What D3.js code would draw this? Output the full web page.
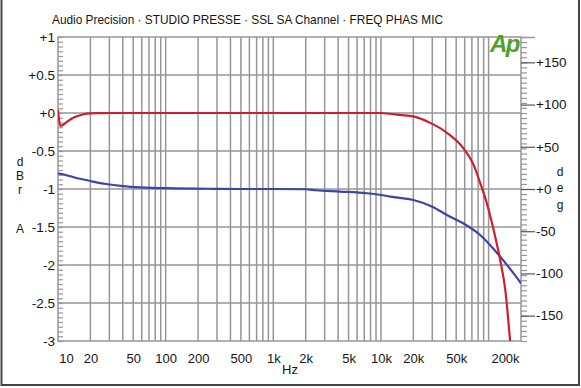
<!DOCTYPE html>
<html>
<head>
<meta charset="UTF-8">
<title>FREQ PHAS MIC</title>
<style>
  body { margin: 0; background: #fff; }
  svg text { font-family: "Liberation Sans", Arial, sans-serif; fill: #151515; }
</style>
</head>
<body>
<div id="chart"></div>
<script src="https://cdn.jsdelivr.net/npm/d3@7/dist/d3.min.js"></script>
<script>
// frequency axis labels
var freqTicks = [10, 20, 50, 100, 200, 500, 1000, 2000, 5000, 10000, 20000, 50000, 200000];
var freqLabels = ["10", "20", "50", "100", "200", "500", "1k", "2k", "5k", "10k", "20k", "50k", "200k"];
// left axis (dBr A)
var dbTicks = [1, 0.5, 0, -0.5, -1, -1.5, -2, -2.5, -3];
var dbLabels = ["+1", "+0.5", "+0", "-0.5", "-1", "-1.5", "-2", "-2.5", "-3"];
// right axis (deg)
var degTicks = [150, 100, 50, 0, -50, -100, -150];
var degLabels = ["+150", "+100", "+50", "+0", "-50", "-100", "-150"];

// amplitude curve (red)
var ampFreq = [10, 10.5, 11, 12, 14, 17, 20, 25, 30, 100, 1000, 5000, 10000, 12000, 15000, 20000, 28700, 41000, 58000, 72500, 83500, 96000, 111000, 128000, 143000, 158000, 165000];
var ampDb   = [0.04, -0.17, -0.16, -0.12, -0.06, -0.02, -0.005, -0.002, 0, 0, 0, 0, 0, -0.01, -0.025, -0.045, -0.13, -0.26, -0.46, -0.68, -0.92, -1.18, -1.53, -1.93, -2.33, -2.98, -3.3];

// phase curve (blue)
var phaseFreq = [10, 12, 14, 20, 28, 40, 58, 118, 250, 500, 1000, 2000, 2500, 4200, 7400, 10000, 12200, 15000, 20000, 30000, 41000, 58000, 83500, 117000, 166000, 200000];
var phaseDeg  = [18.6, 16.3, 13.9, 9.5, 5.9, 3.5, 2, 0.8, 0.3, 0, 0, -0.3, -1.5, -3, -5, -7.1, -9, -10.5, -13, -21, -30.8, -40.6, -54.5, -74.2, -97.9, -111.7];

var width = 581, height = 388;
var plot = { left: 58, right: 521, top: 37, bottom: 341 };

var svg = d3.select("#chart").append("svg")
  .attr("width", width).attr("height", height);

// outer frame
svg.append("rect")
  .attr("x", 1.5).attr("y", -5)
  .attr("width", 577.5).attr("height", 390)
  .attr("fill", "none").attr("stroke", "#444").attr("stroke-width", 2);

var x = d3.scaleLog().domain([10, 200000]).range([plot.left, plot.right]);
var yL = d3.scaleLinear().domain([-3, 1]).range([plot.bottom, plot.top]);
var yR = d3.scaleLinear().domain([-180, 180]).range([plot.bottom, plot.top]);

var gridColor = "#969696";
var font = "'Liberation Sans', Arial, sans-serif";

// grid
var grid = svg.append("g").attr("stroke", gridColor).attr("stroke-width", 1.5);
grid.selectAll("line.v")
  .data(x.ticks().filter(function(f) { return f > 10 && f < 200000; }))
  .join("line")
  .attr("class", "v")
  .attr("x1", function(d) { return x(d); }).attr("x2", function(d) { return x(d); })
  .attr("y1", plot.top).attr("y2", plot.bottom);
grid.selectAll("line.h")
  .data(dbTicks.slice(1, -1))
  .join("line")
  .attr("class", "h")
  .attr("x1", plot.left).attr("x2", plot.right)
  .attr("y1", function(d) { return yL(d); }).attr("y2", function(d) { return yL(d); });

// plot border
svg.append("rect")
  .attr("x", plot.left).attr("y", plot.top)
  .attr("width", plot.right - plot.left).attr("height", plot.bottom - plot.top)
  .attr("fill", "none").attr("stroke", gridColor).attr("stroke-width", 1.5);

// left minor ticks (inward)
svg.append("g")
  .attr("transform", "translate(" + plot.left + ",0)")
  .call(d3.axisRight(yL).tickValues(d3.range(-3, 1.0001, 0.0625)).tickSize(5).tickFormat(""))
  .call(function(g) { g.select(".domain").remove(); })
  .selectAll("line").attr("stroke", gridColor).attr("stroke-width", 1.2);

// left labels
svg.append("g")
  .attr("transform", "translate(" + plot.left + ",0)")
  .call(d3.axisLeft(yL).tickValues(dbTicks).tickSize(0).tickPadding(3)
    .tickFormat(function(d, i) { return dbLabels[i]; }))
  .call(function(g) { g.select(".domain").remove(); })
  .selectAll("text").attr("font-size", "13.5px").attr("fill", "#151515")
  .style("font-family", font);

// right minor ticks (outward)
svg.append("g")
  .attr("transform", "translate(" + plot.right + ",0)")
  .call(d3.axisRight(yR).tickValues(d3.range(-180, 181, 6)).tickSize(6).tickFormat(""))
  .call(function(g) { g.select(".domain").remove(); })
  .selectAll("line").attr("stroke", gridColor).attr("stroke-width", 1.2);

// right major ticks + labels
svg.append("g")
  .attr("transform", "translate(" + plot.right + ",0)")
  .call(d3.axisRight(yR).tickValues(degTicks).tickSize(14).tickPadding(1)
    .tickFormat(function(d, i) { return degLabels[i]; }))
  .call(function(g) { g.select(".domain").remove(); })
  .call(function(g) {
    g.selectAll("line").attr("stroke", "#555").attr("stroke-width", 1.2);
    g.selectAll("text").attr("font-size", "13.5px").attr("fill", "#151515")
      .style("font-family", font);
  });
svg.append("g")
  .attr("transform", "translate(" + plot.right + ",0)")
  .call(d3.axisRight(yR).tickValues([180]).tickSize(14).tickFormat(""))
  .call(function(g) { g.select(".domain").remove(); })
  .selectAll("line").attr("stroke", gridColor).attr("stroke-width", 1.5);

// bottom labels
svg.append("g")
  .attr("transform", "translate(0," + plot.bottom + ")")
  .call(d3.axisBottom(x).tickValues(freqTicks).tickSize(0).tickPadding(13)
    .tickFormat(function(d, i) { return freqLabels[i]; }))
  .call(function(g) { g.select(".domain").remove(); })
  .selectAll("text")
  .attr("font-size", "13px").attr("fill", "#151515")
  .style("font-family", font)
  .attr("dx", function(d, i) { return i === 0 ? 8 : (i === freqTicks.length - 1 ? -16 : 0); });

// curves
svg.append("clipPath").attr("id", "clip")
  .append("rect")
  .attr("x", plot.left).attr("y", plot.top)
  .attr("width", plot.right - plot.left).attr("height", plot.bottom - plot.top);

var ampData = ampFreq.map(function(f, i) { return [f, ampDb[i]]; });
var phaseData = phaseFreq.map(function(f, i) { return [f, phaseDeg[i]]; });

svg.append("path")
  .datum(phaseData)
  .attr("clip-path", "url(#clip)")
  .attr("fill", "none").attr("stroke", "#3d44a8").attr("stroke-width", 2.2)
  .attr("d", d3.line().curve(d3.curveMonotoneX)
    .x(function(d) { return x(d[0]); }).y(function(d) { return yR(d[1]); }));

svg.append("path")
  .datum(ampData)
  .attr("clip-path", "url(#clip)")
  .attr("fill", "none").attr("stroke", "#cc1f2e").attr("stroke-width", 2.2)
  .attr("d", d3.line().curve(d3.curveMonotoneX)
    .x(function(d) { return x(d[0]); }).y(function(d) { return yL(d[1]); }));

// title
svg.append("text")
  .attr("x", 52).attr("y", 24)
  .attr("font-size", "13.5px")
  .attr("textLength", 391).attr("lengthAdjust", "spacingAndGlyphs")
  .text("Audio Precision \u00b7 STUDIO PRESSE \u00b7 SSL SA Channel \u00b7 FREQ PHAS MIC");

// Ap logo
svg.append("text")
  .attr("x", 490).attr("y", 52)
  .attr("font-size", "24px").attr("font-weight", "900").attr("font-style", "italic")
  .style("fill", "#52a02c")
  .attr("letter-spacing", "-1.5")
  .text("Ap");

// axis titles
svg.append("text").attr("x", 290).attr("y", 374)
  .attr("text-anchor", "middle").attr("font-size", "13px").text("Hz");

var leftTitle = [["d", 166], ["B", 180], ["r", 194], ["A", 233]];
svg.selectAll("text.lt").data(leftTitle).join("text")
  .attr("class", "lt")
  .attr("x", 20).attr("y", function(d) { return d[1]; })
  .attr("text-anchor", "middle").attr("font-size", "12px")
  .text(function(d) { return d[0]; });

var rightTitle = [["d", 176], ["e", 192], ["g", 209]];
svg.selectAll("text.rt").data(rightTitle).join("text")
  .attr("class", "rt")
  .attr("x", 560).attr("y", function(d) { return d[1]; })
  .attr("text-anchor", "middle").attr("font-size", "12px")
  .text(function(d) { return d[0]; });
</script>
</body>
</html>
